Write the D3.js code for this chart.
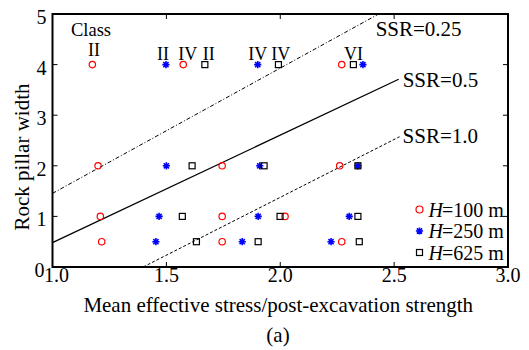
<!DOCTYPE html>
<html>
<head>
<meta charset="utf-8">
<script src="https://cdn.jsdelivr.net/npm/d3@7"></script>
<style>
    body { margin: 0; background: white; }
    text { font-family: "Liberation Serif", "Times New Roman", serif; fill: #000; }
</style>
</head>
<body>
<div id="chartContainer"></div>
<script>
// points: [ratio, pillar width]
var h100 = [[1.175, 4], [1.574, 4], [2.27, 4], [1.20, 2], [1.745, 2], [2.261, 2],
    [1.21, 1], [1.745, 1], [2.021, 1], [1.216, 0.5], [1.745, 0.5], [2.27, 0.5]];
var h250 = [[1.498, 4], [1.901, 4], [2.363, 4], [1.50, 2], [1.91, 2], [2.341, 2],
    [1.468, 1], [1.903, 1], [2.303, 1], [1.454, 0.5], [1.833, 0.5], [2.223, 0.5]];
var h625 = [[1.669, 4], [1.992, 4], [2.321, 4], [1.613, 2], [1.929, 2], [2.341, 2],
    [1.57, 1], [1.999, 1], [2.341, 1], [1.632, 0.5], [1.903, 0.5], [2.347, 0.5]];

// SSR boundary lines (end points)
var ssr025 = [[1.0, 1.455], [2.432, 5.0]];
var ssr05 = [[1.0, 0.48], [2.52, 3.71]];
var ssr10 = [[1.398, 0], [2.524, 2.575]];

var classNames = ["II", "II", "IV", "II", "IV", "IV", "VI"];
var classX = [1.182, 1.485, 1.594, 1.686, 1.901, 2.002, 2.322];

var xTicks = [1.0, 1.5, 2.0, 2.5, 3.0];
var yTicks = [0, 1, 2, 3, 4, 5];

var width = 529, height = 350;
var margin = { top: 14, right: 21, bottom: 83, left: 52.5 };

var svg = d3.select("#chartContainer")
    .append("svg")
    .attr("width", width)
    .attr("height", height);

var x = d3.scaleLinear().domain([1, 3]).range([margin.left, width - margin.right]);
var y = d3.scaleLinear().domain([0, 5]).range([height - margin.bottom, margin.top]);

svg.append("clipPath").attr("id", "plotclip")
    .append("rect")
    .attr("x", x(1)).attr("y", y(5))
    .attr("width", x(3) - x(1)).attr("height", y(0) - y(5));

var line = d3.line()
    .x(function (d) { return x(d[0]) })
    .y(function (d) { return y(d[1]) });

var plot = svg.append("g").attr("clip-path", "url(#plotclip)");

plot.append("path").datum(ssr025)
    .attr("fill", "none").attr("stroke", "#000").attr("stroke-width", 1)
    .attr("stroke-dasharray", "4,2,1,2")
    .attr("d", line);
plot.append("path").datum(ssr05)
    .attr("fill", "none").attr("stroke", "#000").attr("stroke-width", 1.3)
    .attr("d", line);
plot.append("path").datum(ssr10)
    .attr("fill", "none").attr("stroke", "#000").attr("stroke-width", 1)
    .attr("stroke-dasharray", "3,2")
    .attr("d", line);

// line labels
svg.append("text").attr("x", x(2.432) - 3).attr("y", 36).attr("font-size", 21).text("SSR=0.25");
svg.append("text").attr("x", x(2.52) + 4).attr("y", 87).attr("font-size", 21).text("SSR=0.5");
svg.append("text").attr("x", x(2.524) + 3).attr("y", 143).attr("font-size", 21).text("SSR=1.0");

// markers
function asterisk(r) {
    var a = r * 0.72;
    return "M0," + (-r) + "L0," + r + "M" + (-r) + ",0L" + r + ",0" +
        "M" + (-a) + "," + (-a) + "L" + a + "," + a + "M" + (-a) + "," + a + "L" + a + "," + (-a);
}

svg.append("g").selectAll("circle").data(h100).enter()
    .append("circle")
    .attr("cx", function (d) { return x(d[0]) })
    .attr("cy", function (d) { return y(d[1]) })
    .attr("r", 3.2)
    .attr("fill", "none").attr("stroke", "red").attr("stroke-width", 1.2);

svg.append("g").selectAll("path").data(h250).enter()
    .append("path")
    .attr("transform", function (d) { return "translate(" + x(d[0]) + "," + y(d[1]) + ")" })
    .attr("d", asterisk(3.6))
    .attr("stroke", "blue").attr("stroke-width", 1.6).attr("fill", "none");

svg.append("g").selectAll("rect").data(h625).enter()
    .append("rect")
    .attr("x", function (d) { return x(d[0]) - 3 })
    .attr("y", function (d) { return y(d[1]) - 3 })
    .attr("width", 6).attr("height", 6)
    .attr("fill", "none").attr("stroke", "#000").attr("stroke-width", 1.2);

// class labels
svg.append("g").selectAll("text").data(classNames).enter()
    .append("text")
    .attr("x", function (d, i) { return x(classX[i]) })
    .attr("y", function (d, i) { return i == 0 ? 56 : 60 })
    .attr("text-anchor", "middle")
    .attr("font-size", 18)
    .text(function (d) { return d });
svg.append("text").attr("x", x(1.169)).attr("y", 36).attr("text-anchor", "middle")
    .attr("font-size", 18.5).text("Class");

// frame and inward ticks
var x0 = x(1), x1 = x(3), y0 = y(0), y1 = y(5), tl = 5;
var ticks = svg.append("g").attr("stroke", "#000").attr("stroke-width", 1);
xTicks.forEach(function (t) {
    ticks.append("line").attr("x1", x(t)).attr("x2", x(t)).attr("y1", y0).attr("y2", y0 - tl);
    ticks.append("line").attr("x1", x(t)).attr("x2", x(t)).attr("y1", y1).attr("y2", y1 + tl);
});
yTicks.forEach(function (t) {
    ticks.append("line").attr("x1", x0).attr("x2", x0 + tl).attr("y1", y(t)).attr("y2", y(t));
    ticks.append("line").attr("x1", x1).attr("x2", x1 - tl).attr("y1", y(t)).attr("y2", y(t));
});
svg.append("rect")
    .attr("x", x0).attr("y", y1)
    .attr("width", x1 - x0).attr("height", y0 - y1)
    .attr("fill", "none").attr("stroke", "#000").attr("stroke-width", 2);

// tick labels
svg.append("g").selectAll("text").data(xTicks).enter()
    .append("text")
    .attr("x", function (d) { return x(d) + (d == 1 ? 4 : 0) })
    .attr("y", y0 + 15)
    .attr("text-anchor", "middle").attr("font-size", 20)
    .text(function (d) { return d.toFixed(1) });
svg.append("g").selectAll("text").data(yTicks).enter()
    .append("text")
    .attr("x", function (d) { return x0 - (d == 0 ? 8 : 6) })
    .attr("y", function (d) { return y(d) + 10 })
    .attr("text-anchor", "end").attr("font-size", 20)
    .text(function (d) { return d });

// axis titles
svg.append("text").attr("x", (x0 + x1) / 2 - 2).attr("y", 312)
    .attr("text-anchor", "middle").attr("font-size", 21)
    .text("Mean effective stress/post-excavation strength");
svg.append("text").attr("transform", "translate(29," + 157 + ") rotate(-90)")
    .attr("text-anchor", "middle").attr("font-size", 21)
    .text("Rock pillar width");
svg.append("text").attr("x", 278).attr("y", 342)
    .attr("text-anchor", "middle").attr("font-size", 21)
    .text("(a)");

// legend
var legend = svg.append("g").attr("transform", "translate(419.5,209.5)");
var rowH = 21.5;
legend.append("circle").attr("cx", 0).attr("cy", 0).attr("r", 3.5)
    .attr("fill", "none").attr("stroke", "red").attr("stroke-width", 1.2);
legend.append("path").attr("transform", "translate(0," + rowH + ")").attr("d", asterisk(3.6))
    .attr("stroke", "blue").attr("stroke-width", 1.6).attr("fill", "none");
legend.append("rect").attr("x", -3).attr("y", 2 * rowH - 3).attr("width", 6).attr("height", 6)
    .attr("fill", "none").attr("stroke", "#000").attr("stroke-width", 1.2);
["100", "250", "625"].forEach(function (h, i) {
    var t = legend.append("text").attr("x", 9).attr("y", i * rowH + 7).attr("font-size", 20);
    t.append("tspan").attr("font-style", "italic").text("H");
    t.append("tspan").attr("dx", -1).text("=" + h + " m");
});
</script>
</body>
</html>
